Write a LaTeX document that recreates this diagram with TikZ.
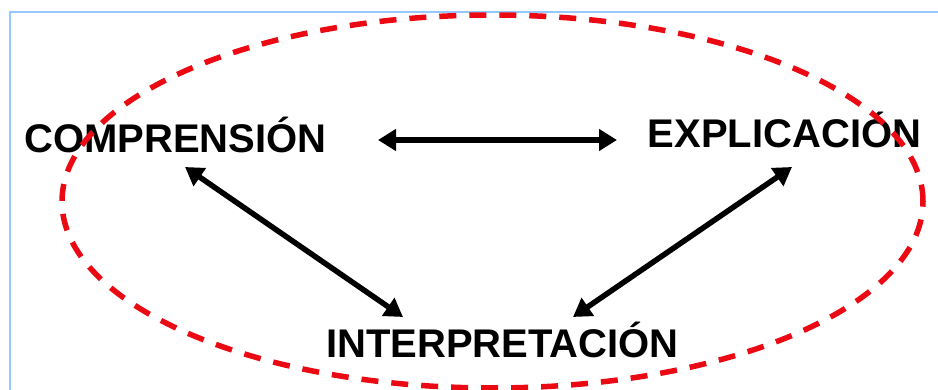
\documentclass[tikz,border=0pt]{standalone}
\usepackage{fontspec}
\setmainfont{Liberation Sans}
\usetikzlibrary{arrows.meta}
\definecolor{frameblue}{RGB}{150,200,255}
\definecolor{ellred}{RGB}{235,10,20}
\tikzset{
  lbl/.style={inner sep=0pt, anchor=base, font=\fontsize{40}{48}\selectfont\bfseries},
  link/.style={line width=5.5pt, {Triangle[length=18pt,width=21pt]}-{Triangle[length=18pt,width=21pt]}},
  ring/.style={draw=ellred, line width=5.5pt, dash pattern=on 17pt off 13pt},
  edge/.style={draw=frameblue, line width=2.5pt}
}
\begin{document}
\begin{tikzpicture}[x=1pt,y=1pt]
\useasboundingbox (0,0) rectangle (938,390);
\fill[white] (0,0) rectangle (938,390);
\coordinate (tl) at (10,378);
\coordinate (tr) at (938,378);
\coordinate (bl) at (10,0);
\draw[edge] (tr) -- (tl) -- (bl);
\node[lbl] (comp) at (175.5,237) {COMPRENSIÓN};
\node[lbl] (expl) at (784.5,242) {EXPLICACIÓN};
\node[lbl] (inter) at (502.5,32) {INTERPRETACIÓN};
\coordinate (h1) at (378,250);
\coordinate (h2) at (617,250);
\coordinate (l1) at (185,223);
\coordinate (l2) at (403,73);
\coordinate (r1) at (792,223);
\coordinate (r2) at (573,73);
\draw[link] (h1) -- (h2);
\draw[link] (l1) -- (l2);
\draw[link] (r1) -- (r2);
\draw[ring] (492.5,188.5) ellipse [x radius=430.5, y radius=186.5];
\end{tikzpicture}
\end{document}
